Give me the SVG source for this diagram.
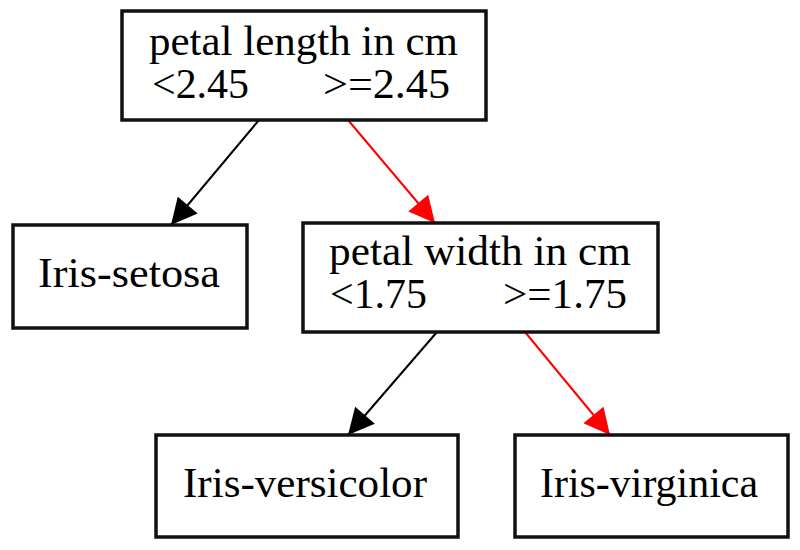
<svg xmlns="http://www.w3.org/2000/svg" width="800" height="550" viewBox="0 0 800 550">
<defs>
<style>
.box{fill:#fff;stroke:#111;stroke-width:3.5}
.t{font-family:"Liberation Serif","Times New Roman",serif;font-size:42px;fill:#000}
.e{fill:none;stroke-width:2}
</style>
<marker id="ab" viewBox="0 0 10 10" refX="10" refY="5" markerUnits="userSpaceOnUse" markerWidth="28" markerHeight="26" orient="auto"><path d="M0,0 L10,5 L0,10 z" fill="#000"/></marker>
<marker id="ar" viewBox="0 0 10 10" refX="10" refY="5" markerUnits="userSpaceOnUse" markerWidth="28" markerHeight="26" orient="auto"><path d="M0,0 L10,5 L0,10 z" fill="#f00"/></marker>
</defs>
<rect width="800" height="550" fill="#fff"/>
<g id="connectors">
<line class="e" x1="259" y1="120" x2="171" y2="225" stroke="#000" marker-end="url(#ab)"/>
<line class="e" x1="348" y1="120" x2="435" y2="223" stroke="#f00" marker-end="url(#ar)"/>
<line class="e" x1="437" y1="332" x2="348" y2="435" stroke="#000" marker-end="url(#ab)"/>
<line class="e" x1="525" y1="332" x2="610" y2="435" stroke="#f00" marker-end="url(#ar)"/>
</g>
<g id="root">
<rect class="box" x="122" y="11" width="364" height="109"/>
<text class="t" x="149" y="55" textLength="309" lengthAdjust="spacingAndGlyphs">petal length in cm</text>
<text class="t" x="152" y="98" textLength="97" lengthAdjust="spacingAndGlyphs">&lt;2.45</text>
<text class="t" x="323" y="98" textLength="127" lengthAdjust="spacingAndGlyphs">&gt;=2.45</text>
</g>
<g id="setosa">
<rect class="box" x="13" y="225" width="234" height="103"/>
<text class="t" x="38" y="287" textLength="182" lengthAdjust="spacingAndGlyphs">Iris-setosa</text>
</g>
<g id="petalwidth">
<rect class="box" x="303" y="223" width="355" height="109"/>
<text class="t" x="329" y="265" textLength="302" lengthAdjust="spacingAndGlyphs">petal width in cm</text>
<text class="t" x="330" y="308" textLength="97" lengthAdjust="spacingAndGlyphs">&lt;1.75</text>
<text class="t" x="503" y="308" textLength="124" lengthAdjust="spacingAndGlyphs">&gt;=1.75</text>
</g>
<g id="versicolor">
<rect class="box" x="156" y="435" width="302" height="102"/>
<text class="t" x="183" y="497" textLength="244" lengthAdjust="spacingAndGlyphs">Iris-versicolor</text>
</g>
<g id="virginica">
<rect class="box" x="515" y="435" width="273" height="102"/>
<text class="t" x="540" y="497" textLength="218" lengthAdjust="spacingAndGlyphs">Iris-virginica</text>
</g>
</svg>
